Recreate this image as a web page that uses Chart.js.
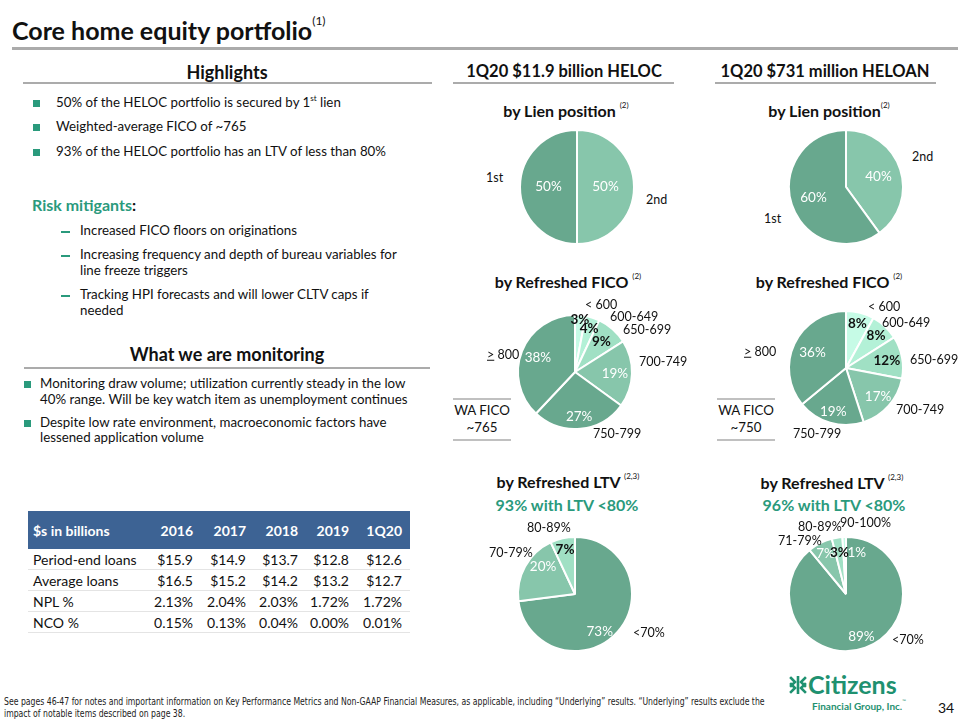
<!DOCTYPE html>
<html><head><meta charset="utf-8">
<script src="https://cdn.jsdelivr.net/npm/chart.js@4"></script>
<style>
body{margin:0;width:960px;height:720px;position:relative;background:#fff;font-family:Lato,"Open Sans",sans-serif;color:#111;overflow:hidden}
.t{position:absolute;white-space:nowrap;transform:translateY(-50%);line-height:1}
.c{transform:translate(-50%,-50%)}
.h{font-weight:bold;font-size:18px}
.sub{font-weight:bold;font-size:16px}
sup{font-size:8px;font-weight:normal;vertical-align:top;position:relative;top:-2px}
.b{font-size:13.3px}
.ln{position:absolute;background:#ababab}
.sq{position:absolute;width:7px;height:7px;background:#2a9a7c}
.ds{position:absolute;width:9px;height:1.5px;background:#2a9a7c}
.ol{position:absolute;white-space:nowrap;transform:translateY(-50%);line-height:1;font-size:12.5px}
canvas{position:absolute}
table{position:absolute;left:28px;top:511px;width:382px;border-collapse:collapse;font-size:14px;table-layout:fixed}
th{background:#3d6394;color:#fff;font-weight:bold;height:38px;text-align:right;padding:0 4px 0 0}
th:first-child{text-align:left;padding-left:5px}
td{height:20px;text-align:right;padding:0 4px 0 0;border-bottom:1px solid #e4e4e4}
td:first-child{text-align:left;padding-left:5px}
th:last-child,td:last-child{padding-right:8px}
.foot{position:absolute;left:4px;top:696px;font-family:"Liberation Sans Narrow","DejaVu Sans Condensed",sans-serif;font-size:10px;line-height:12px;color:#222;white-space:nowrap;transform:scaleX(0.86);transform-origin:0 0}
</style></head>
<body>
<div class="t" style="left:12px;top:30px;font-size:25px;font-weight:bold">Core home equity portfolio<sup style="font-size:12px;top:-3px">(1)</sup></div>
<div class="ln" style="left:12px;top:47px;width:946px;height:3px"></div>

<div class="t c h" style="left:227px;top:72px">Highlights</div>
<div class="ln" style="left:23px;top:82px;width:409px;height:2px"></div>
<div class="t c h" style="left:564px;top:71px;font-size:16.5px">1Q20 $11.9 billion HELOC</div>
<div class="ln" style="left:453px;top:82px;width:221px;height:2px"></div>
<div class="t c h" style="left:825px;top:71px;font-size:16.5px">1Q20 $731 million HELOAN</div>
<div class="ln" style="left:715px;top:82px;width:221px;height:2px"></div>

<div class="sq" style="left:33px;top:100px"></div><div class="t b" style="left:56px;top:103px">50% of the HELOC portfolio is secured by 1<sup>st</sup> lien</div>
<div class="sq" style="left:33px;top:124px"></div><div class="t b" style="left:56px;top:127px">Weighted-average FICO of ~765</div>
<div class="sq" style="left:33px;top:149px"></div><div class="t b" style="left:56px;top:152px">93% of the HELOC portfolio has an LTV of less than 80%</div>

<div class="t" style="left:32px;top:205px;font-size:16px;font-weight:bold;color:#2a9a7c">Risk mitigants<span style="color:#111">:</span></div>
<div class="ds" style="left:61px;top:231px"></div><div class="t b" style="left:80px;top:231px">Increased FICO floors on originations</div>
<div class="ds" style="left:61px;top:255px"></div><div class="t b" style="left:80px;top:255px">Increasing frequency and depth of bureau variables for</div>
<div class="t b" style="left:80px;top:271px">line freeze triggers</div>
<div class="ds" style="left:61px;top:295px"></div><div class="t b" style="left:80px;top:295px">Tracking HPI forecasts and will lower CLTV caps if</div>
<div class="t b" style="left:80px;top:311px">needed</div>

<div class="t c h" style="left:227px;top:354px">What we are monitoring</div>
<div class="ln" style="left:24px;top:367px;width:406px;height:2px"></div>
<div class="sq" style="left:24px;top:381px"></div><div class="t b" style="left:40px;top:384px">Monitoring draw volume; utilization currently steady in the low</div>
<div class="t b" style="left:40px;top:400px">40% range. Will be key watch item as unemployment continues</div>
<div class="sq" style="left:24px;top:420px"></div><div class="t b" style="left:40px;top:423px">Despite low rate environment, macroeconomic factors have</div>
<div class="t b" style="left:40px;top:438px">lessened application volume</div>

<table id="tbl"><colgroup><col style="width:118px"><col style="width:51px"><col style="width:53px"><col style="width:52px"><col style="width:51px"><col style="width:57px"></colgroup></table>

<div class="t c sub" style="left:566px;top:111px">by Lien position <sup>(2)</sup></div>
<div class="t c sub" style="left:829px;top:111px">by Lien position<sup>(2)</sup></div>
<div class="t c sub" style="left:568px;top:282px">by Refreshed FICO <sup>(2)</sup></div>
<div class="t c sub" style="left:829px;top:282px">by Refreshed FICO <sup>(2)</sup></div>
<div class="t c sub" style="left:568px;top:482px">by Refreshed LTV <sup>(2,3)</sup></div>
<div class="t c sub" style="left:832px;top:483px">by Refreshed LTV <sup>(2,3)</sup></div>
<div class="t c sub" style="left:567px;top:505px;color:#2a9a7c">93% with LTV &lt;80%</div>
<div class="t c sub" style="left:834px;top:505px;color:#2a9a7c">96% with LTV &lt;80%</div>

<div class="ln" style="left:453px;top:398px;width:58px;height:2px;background:#c0c0c0"></div>
<div class="ln" style="left:453px;top:439px;width:58px;height:2px;background:#c0c0c0"></div>
<div class="t c b" style="left:482px;top:411px">WA FICO</div>
<div class="t c b" style="left:482px;top:428px">~765</div>
<div class="ln" style="left:717px;top:398px;width:58px;height:2px;background:#c0c0c0"></div>
<div class="ln" style="left:717px;top:439px;width:58px;height:2px;background:#c0c0c0"></div>
<div class="t c b" style="left:746px;top:411px">WA FICO</div>
<div class="t c b" style="left:746px;top:428px">~750</div>

<div class="foot">See pages 46-47 for notes and important information on Key Performance Metrics and Non-GAAP Financial Measures, as applicable, including “Underlying” results. “Underlying” results exclude the<br>impact of notable items described on page 38.</div>

<svg style="position:absolute;left:789px;top:676px" width="18" height="18" viewBox="0 0 18 18">
<g fill="none" stroke="#1f9170" stroke-width="2.6" stroke-linecap="square">
<path d="M2 2 L6 6 L2 10"/><path d="M16 2 L12 6 L16 10"/><path d="M2 8 L6 12 L2 16"/><path d="M16 8 L12 12 L16 16"/>
<path d="M9 1 L9 17"/></g></svg>
<div class="t" style="left:808px;top:684px;font-size:25px;line-height:22px;font-weight:bold;color:#1f9170">Citizens</div>
<div class="t" style="left:812px;top:706px;font-size:10px;font-weight:bold;color:#1f9170">Financial Group, Inc.<sup style="font-size:5px">™</sup></div>
<div class="t" style="left:938px;top:708px;font-size:14px">34</div>

<script>
// ---------- data ----------
const lienLabelsHeloc = ['2nd', '1st'];
const lienValuesHeloc = [50, 50];
const lienLabelsHeloan = ['2nd', '1st'];
const lienValuesHeloan = [40, 60];
const ficoLabels = ['< 600', '600-649', '650-699', '700-749', '750-799', '≥ 800'];
const ficoValuesHeloc = [3, 4, 9, 19, 27, 38];
const ficoValuesHeloan = [8, 8, 12, 17, 19, 36];
const ltvLabelsHeloc = ['<70%', '70-79%', '80-89%'];
const ltvValuesHeloc = [73, 20, 7];
const ltvLabelsHeloan = ['<70%', '71-79%', '80-89%', '90-100%'];
const ltvValuesHeloan = [89, 7, 3, 1];

const tableHeader = '$s in billions';
const tableYears = ['2016', '2017', '2018', '2019', '1Q20'];
const rowNames = ['Period-end loans', 'Average loans', 'NPL %', 'NCO %'];
const periodEndLoans = [15.9, 14.9, 13.7, 12.8, 12.6];
const averageLoans = [16.5, 15.2, 14.2, 13.2, 12.7];
const nplPct = [2.13, 2.04, 2.03, 1.72, 1.72];
const ncoPct = [0.15, 0.13, 0.04, 0.00, 0.01];

// ---------- table ----------
const tbl = document.getElementById('tbl');
let html = '<tr><th>' + tableHeader + '</th>' + tableYears.map(y => '<th>' + y + '</th>').join('') + '</tr>';
const rows = [
  periodEndLoans.map(v => '$' + v.toFixed(1)),
  averageLoans.map(v => '$' + v.toFixed(1)),
  nplPct.map(v => v.toFixed(2) + '%'),
  ncoPct.map(v => v.toFixed(2) + '%')
];
rows.forEach((r, i) => { html += '<tr><td>' + rowNames[i] + '</td>' + r.map(v => '<td>' + v + '</td>').join('') + '</tr>'; });
tbl.insertAdjacentHTML('beforeend', html);

// ---------- styles ----------
const DARK = '#68a88e', MED = '#87c6ab', L1 = '#a0e0c4', L2 = '#b3f1d7', L3 = '#c6fbe6';
const W = '#ffffff', K = '#111111';
const FW = '13.5px Lato', FB = 'bold 13.5px Lato';

const sliceLabels = {
  id: 'sliceLabels',
  afterDatasetsDraw(chart, args, opts) {
    const ctx = chart.ctx;
    const meta = chart.getDatasetMeta(0);
    const vals = chart.data.datasets[0].data;
    meta.data.forEach((arc, i) => {
      const p = arc.getProps(['x', 'y', 'startAngle', 'endAngle', 'outerRadius'], true);
      const mid = (p.startAngle + p.endAngle) / 2;
      const r = p.outerRadius * opts.radius[i];
      const sh = (opts.shift && opts.shift[i]) || [0, 0];
      ctx.save();
      ctx.font = opts.fonts[i];
      ctx.fillStyle = opts.colors[i];
      ctx.textAlign = 'center';
      ctx.textBaseline = 'middle';
      ctx.fillText(vals[i] + '%', p.x + Math.cos(mid) * r + sh[0], p.y + Math.sin(mid) * r + sh[1]);
      ctx.restore();
    });
  }
};

function makePie(cx, cy, labels, values, colors, lab, outerPos) {
  const S = 124;
  const cv = document.createElement('canvas');
  cv.width = S; cv.height = S;
  cv.style.left = (cx - S / 2) + 'px';
  cv.style.top = (cy - S / 2) + 'px';
  cv.style.width = S + 'px'; cv.style.height = S + 'px';
  document.body.appendChild(cv);
  new Chart(cv, {
    type: 'pie',
    data: { labels: labels, datasets: [{ data: values, backgroundColor: colors, borderColor: '#fff', borderWidth: 2 }] },
    options: {
      responsive: false, animation: false, devicePixelRatio: 1,
      layout: { padding: 4 },
      plugins: { legend: { display: false }, tooltip: { enabled: false }, sliceLabels: lab }
    },
    plugins: [sliceLabels]
  });
  labels.forEach((l, i) => {
    const d = document.createElement('div');
    d.className = 'ol';
    d.innerHTML = l.replace('≥', '<u>&gt;</u>').replace('<7', '&lt;7').replace('< 6', '&lt; 6');
    d.style.left = outerPos[i][0] + 'px';
    d.style.top = outerPos[i][1] + 'px';
    document.body.appendChild(d);
  });
}

makePie(577, 187, lienLabelsHeloc, lienValuesHeloc, [MED, DARK],
  { radius: [0.5, 0.5], fonts: [FW, FW], colors: [W, W] },
  [[646, 200], [486, 178]]);
makePie(846, 187, lienLabelsHeloan, lienValuesHeloan, [MED, DARK],
  { radius: [0.6, 0.6], fonts: [FW, FW], colors: [W, W] },
  [[912, 157], [764, 219]]);
makePie(575, 372, ficoLabels, ficoValuesHeloc, [L3, L2, L1, MED, DARK, DARK],
  { radius: [0.92, 0.8, 0.7, 0.7, 0.78, 0.7], fonts: [FB, FB, FB, FW, FW, FW], colors: [K, K, K, W, W, W] },
  [[585, 305], [610, 317], [623, 330], [639, 362], [593, 434], [487, 355]]);
makePie(846, 368, ficoLabels, ficoValuesHeloan, [L3, L2, L1, MED, DARK, DARK],
  { radius: [0.8, 0.77, 0.73, 0.75, 0.8, 0.65], fonts: [FB, FB, FB, FW, FW, FW], colors: [K, K, K, W, W, W] },
  [[868, 307], [882, 323], [910, 360], [896, 410], [793, 434], [744, 352]]);
makePie(575, 594, ltvLabelsHeloc, ltvValuesHeloc, [DARK, MED, L1],
  { radius: [0.79, 0.74, 0.8], shift: [[-9, 8], [5, -7], [0, 0]], fonts: [FW, FW, FB], colors: [W, W, K] },
  [[633, 633], [489, 553], [527, 528]]);
makePie(846, 594, ltvLabelsHeloan, ltvValuesHeloan, [DARK, MED, L1, L3],
  { radius: [0.8, 0.79, 0.73, 0.72], shift: [[0, 0], [0, 0], [0, 0], [12, 0]], fonts: [FW, FW, FB, FW], colors: [W, W, K, W] },
  [[892, 640], [778, 541], [798, 527], [840, 523]]);
</script>
</body></html>
